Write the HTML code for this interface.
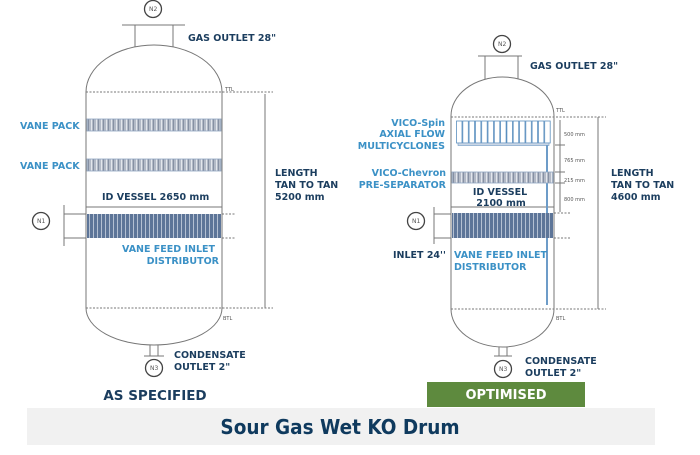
<!DOCTYPE html>
<html><head><meta charset="utf-8"><style>
body{margin:0;background:#fff;}
svg text{font-family:"DejaVu Sans","Liberation Sans",sans-serif;font-weight:bold;}
.d{fill:#1b3d5e;font-size:9.5px;}
.b{fill:#3b91c6;font-size:9.5px;}
.s{fill:#555;font-size:5px;font-weight:normal;}
.n{fill:#555;font-size:6px;font-weight:normal;}
</style></head><body>
<svg width="700" height="450" viewBox="0 0 700 450" xmlns="http://www.w3.org/2000/svg">
<defs>
<pattern id="vp" width="5" height="12" patternUnits="userSpaceOnUse">
<rect width="5" height="12" fill="#b3bac7"/><rect x="1" width="1" height="12" fill="#e3e6ec"/><rect x="3" width="1" height="12" fill="#8690a3"/>
</pattern>
<pattern id="di" width="4" height="30" patternUnits="userSpaceOnUse">
<rect width="4" height="30" fill="#5d7598"/><rect x="1" width="1" height="30" fill="#b4c0d2"/>
</pattern>
</defs>
<g fill="none" stroke="#777" stroke-width="1">
<path d="M86,92 A68,47 0 0 1 222,92 L222,308 A68,37 0 0 1 86,308 Z"/>
<line x1="122" y1="25" x2="185" y2="25"/>
<line x1="135" y1="25" x2="135" y2="47"/><line x1="173" y1="25" x2="173" y2="47"/>
<circle cx="153" cy="9" r="8.5" stroke="#444" stroke-width="1.3"/>
<line x1="86" y1="92" x2="273" y2="92" stroke-dasharray="2,1.5"/>
<line x1="86" y1="308" x2="273" y2="308" stroke-dasharray="2,1.5"/>
<line x1="265" y1="94" x2="265" y2="308"/>
<line x1="86" y1="207" x2="222" y2="207"/>
<line x1="64" y1="205" x2="64" y2="246"/>
<line x1="64" y1="214" x2="86" y2="214"/><line x1="64" y1="238" x2="86" y2="238"/>
<line x1="222" y1="214" x2="236" y2="214" stroke-dasharray="2,1.5"/><line x1="222" y1="238" x2="236" y2="238" stroke-dasharray="2,1.5"/>
<circle cx="41" cy="221" r="8.5" stroke="#444" stroke-width="1.3"/>
<line x1="150" y1="345" x2="150" y2="356"/><line x1="158" y1="345" x2="158" y2="356"/>
<line x1="144" y1="356" x2="164" y2="356"/>
<circle cx="154" cy="368" r="8.5" stroke="#444" stroke-width="1.3"/>
<path d="M451,116 A51.5,39 0 0 1 554,116 L554,309 A51.5,38 0 0 1 451,309 Z"/>
<line x1="478" y1="56" x2="522" y2="56"/>
<line x1="485" y1="56" x2="485" y2="79"/><line x1="518" y1="56" x2="518" y2="79"/>
<circle cx="502" cy="44" r="8.5" stroke="#444" stroke-width="1.3"/>
<line x1="451" y1="117" x2="606" y2="117" stroke-dasharray="2,1.5"/>
<line x1="451" y1="309" x2="606" y2="309" stroke-dasharray="2,1.5"/>
<line x1="598" y1="117" x2="598" y2="309"/>
<line x1="560" y1="120" x2="560" y2="212"/>
<line x1="555" y1="145" x2="565" y2="145"/><line x1="555" y1="172" x2="565" y2="172"/><line x1="555" y1="183" x2="565" y2="183"/>
<line x1="451" y1="207" x2="554" y2="207"/>
<line x1="434" y1="207" x2="434" y2="244"/>
<line x1="434" y1="214" x2="451" y2="214"/><line x1="434" y1="238" x2="451" y2="238"/>
<line x1="554" y1="213" x2="570" y2="213" stroke-dasharray="2,1.5"/><line x1="554" y1="238" x2="570" y2="238" stroke-dasharray="2,1.5"/>
<circle cx="416" cy="221" r="8.5" stroke="#444" stroke-width="1.3"/>
<line x1="499" y1="347" x2="499" y2="356"/><line x1="507" y1="347" x2="507" y2="356"/>
<line x1="494" y1="356" x2="512" y2="356"/>
<circle cx="503" cy="369" r="8.5" stroke="#444" stroke-width="1.3"/>
</g>
<rect x="87" y="119" width="134" height="12" fill="url(#vp)" stroke="#8fa6c2" stroke-width="0.8"/>
<rect x="87" y="159" width="134" height="12" fill="url(#vp)" stroke="#8fa6c2" stroke-width="0.8"/>
<rect x="87" y="214" width="134" height="24" fill="url(#di)"/>
<g fill="#fff" stroke="#5b8fbf" stroke-width="0.8">
<rect x="456.5" y="121" width="5.5" height="22"/><rect x="462.8" y="121" width="5.5" height="22"/><rect x="469.1" y="121" width="5.5" height="22"/><rect x="475.4" y="121" width="5.5" height="22"/><rect x="481.7" y="121" width="5.5" height="22"/><rect x="488" y="121" width="5.5" height="22"/><rect x="494.3" y="121" width="5.5" height="22"/><rect x="500.6" y="121" width="5.5" height="22"/><rect x="506.9" y="121" width="5.5" height="22"/><rect x="513.2" y="121" width="5.5" height="22"/><rect x="519.5" y="121" width="5.5" height="22"/><rect x="525.8" y="121" width="5.5" height="22"/><rect x="532.1" y="121" width="5.5" height="22"/><rect x="538.4" y="121" width="5.5" height="22"/><rect x="544.7" y="121" width="5.5" height="22"/>
</g>
<rect x="458" y="143" width="91" height="2.5" fill="#c9d6e6" stroke="#6d97c2" stroke-width="0.6"/>
<rect x="546" y="145" width="2" height="160" fill="#6d9cc8"/>
<rect x="452" y="172" width="101" height="11" fill="url(#vp)" stroke="#8fa6c2" stroke-width="0.8"/>
<rect x="452" y="213" width="101" height="25" fill="url(#di)"/>
<text class="s" x="225" y="91">TTL</text><text class="s" x="223" y="320">BTL</text>
<text class="s" x="556" y="112">TTL</text><text class="s" x="556" y="320">BTL</text>
<text class="s" x="564" y="136">500 mm</text><text class="s" x="564" y="162">765 mm</text>
<text class="s" x="564" y="182">215 mm</text><text class="s" x="564" y="201">800 mm</text>
<text class="n" x="149" y="11">N2</text><text class="n" x="37" y="223">N1</text><text class="n" x="150" y="370">N3</text>
<text class="n" x="498" y="46">N2</text><text class="n" x="412" y="223">N1</text><text class="n" x="499" y="371">N3</text>
<text class="d" x="188" y="41">GAS OUTLET 28"</text>
<text class="b" x="20" y="129">VANE PACK</text>
<text class="b" x="20" y="169">VANE PACK</text>
<text class="d" x="102" y="200">ID VESSEL 2650 mm</text>
<text class="b" x="122" y="252">VANE FEED INLET</text>
<text class="b" x="219" y="264" text-anchor="end">DISTRIBUTOR</text>
<text class="d" x="275" y="176">LENGTH</text><text class="d" x="275" y="188">TAN TO TAN</text><text class="d" x="275" y="200">5200 mm</text>
<text class="d" x="174" y="358">CONDENSATE</text><text class="d" x="174" y="370">OUTLET 2"</text>
<text x="155" y="400" text-anchor="middle" style="fill:#1b3d5e;font-size:13.5px">AS SPECIFIED</text>
<text class="d" x="530" y="69">GAS OUTLET 28"</text>
<text class="b" x="445" y="126" text-anchor="end">VICO-Spin</text>
<text class="b" x="445" y="137" text-anchor="end">AXIAL FLOW</text>
<text class="b" x="445" y="149" text-anchor="end">MULTICYCLONES</text>
<text class="b" x="446" y="176" text-anchor="end">VICO-Chevron</text>
<text class="b" x="446" y="188" text-anchor="end">PRE-SEPARATOR</text>
<text class="d" x="500" y="195" text-anchor="middle">ID VESSEL</text>
<text class="d" x="501" y="206" text-anchor="middle">2100 mm</text>
<text class="d" x="393" y="258">INLET 24''</text>
<text class="b" x="454" y="258">VANE FEED INLET</text>
<text class="b" x="454" y="270">DISTRIBUTOR</text>
<text class="d" x="611" y="176">LENGTH</text><text class="d" x="611" y="188">TAN TO TAN</text><text class="d" x="611" y="200">4600 mm</text>
<text class="d" x="525" y="364">CONDENSATE</text><text class="d" x="525" y="376">OUTLET 2"</text>
<rect x="427" y="382" width="158" height="25" fill="#5e8a3e"/>
<text x="506" y="399" text-anchor="middle" style="fill:#fff;font-size:13px">OPTIMISED</text>
<rect x="27" y="408" width="628" height="37" fill="#f1f1f1"/>
<text x="340" y="434" text-anchor="middle" style="fill:#0f3a5e;font-size:20.5px;font-family:'DejaVu Sans Condensed','DejaVu Sans',sans-serif">Sour Gas Wet KO Drum</text>
</svg>
</body></html>
